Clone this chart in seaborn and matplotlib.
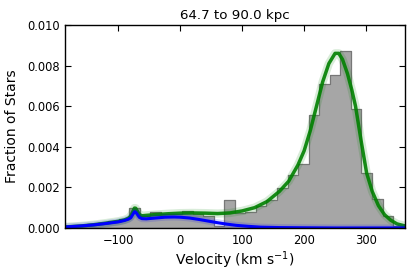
import numpy as np
import pandas as pd
import matplotlib
matplotlib.use("Agg")
import matplotlib.pyplot as plt
import seaborn as sns

# histogram: 32 bins of ~17 km/s, heights
bin_edges = [-184.75 + 17.05 * i for i in range(33)]
bin_heights = [0.00005, 0.0001, 0.00018, 0.00025, 0.00033, 0.00044, 0.00100, 0.00058,
               0.00077, 0.00070, 0.00070, 0.00085, 0.00070, 0.00060, 0.00010, 0.00138,
               0.00075, 0.00080, 0.00110, 0.00138, 0.00199, 0.00261, 0.00314, 0.00555,
               0.00710, 0.00755, 0.00872, 0.00588, 0.00272, 0.00144, 0.00059, 0.00010]

# total model (green)
total_v = [-186, -160, -140, -120, -100, -90, -84, -80, -77, -74, -72, -69, -66, -62, -55,
           -40, -20, 0, 20, 40, 60, 80, 100, 120, 140, 160, 175, 190, 200, 210, 220, 230,
           240, 250, 256, 262, 270, 277, 283, 292, 301, 310, 320, 330, 340, 350, 363]
total_f = [0.00005, 0.0001, 0.00016, 0.00024, 0.00033, 0.0004, 0.00048, 0.00058, 0.00078,
           0.00098, 0.00097, 0.0008, 0.00066, 0.0006, 0.00062, 0.00066, 0.0007, 0.00073,
           0.00074, 0.00073, 0.00071, 0.00074, 0.00084, 0.001, 0.0013, 0.0018, 0.0023,
           0.0031, 0.0038, 0.0048, 0.006, 0.0072, 0.0081, 0.0086, 0.0086, 0.0083, 0.0076,
           0.0068, 0.006, 0.0043, 0.0027, 0.0018, 0.0011, 0.00065, 0.00038, 0.0002, 0.0001]

# halo component (blue)
halo_v = [-186, -160, -140, -120, -100, -90, -84, -80, -77, -74, -72, -69, -66, -62, -55,
          -40, -25, -10, 0, 15, 30, 45, 60, 75, 90, 110, 130, 160, 200, 250, 363]
halo_f = [0.00005, 0.0001, 0.00015, 0.00022, 0.0003, 0.00037, 0.00043, 0.0005, 0.00065,
          0.0008, 0.00078, 0.00065, 0.00052, 0.00046, 0.00045, 0.00049, 0.00053, 0.00054,
          0.00053, 0.00049, 0.00042, 0.00034, 0.00026, 0.00019, 0.00013, 0.00008, 0.00004,
          0.00002, 0.00001, 0.0, 0.0]

sns.set_style("ticks")
plt.rcParams['font.family'] = ['DejaVu Sans']
plt.rcParams['text.color'] = 'black'
plt.rcParams['axes.labelcolor'] = 'black'
plt.rcParams['xtick.color'] = 'black'
plt.rcParams['ytick.color'] = 'black'

fig = plt.figure(figsize=(4.15, 2.77), dpi=100)
ax = fig.add_axes([0.157, 0.177, 0.819, 0.733])

centers = [(bin_edges[i] + bin_edges[i + 1]) / 2 for i in range(len(bin_heights))]
hist_df = pd.DataFrame({'v': centers, 'w': bin_heights})
sns.histplot(data=hist_df, x='v', weights='w', bins=bin_edges, stat='count',
             element='step', fill=True, color='#a6a6a6', alpha=1.0,
             edgecolor='#777777', linewidth=0.9, ax=ax)

tot = pd.DataFrame({'v': total_v, 'f': total_f})
halo = pd.DataFrame({'v': halo_v, 'f': halo_f})
# translucent band standing in for the sampled model curves
sns.lineplot(data=tot, x='v', y='f', color='green', alpha=0.15, linewidth=6, sort=False, ax=ax)
sns.lineplot(data=tot, x='v', y='f', color='green', alpha=0.9, linewidth=2.5, sort=False, ax=ax)
sns.lineplot(data=halo, x='v', y='f', color='blue', alpha=0.15, linewidth=5, sort=False, ax=ax)
sns.lineplot(data=halo, x='v', y='f', color='blue', linewidth=2.2, sort=False, ax=ax)

ax.set_xlim(-186, 363)
ax.set_ylim(0, 0.010)
ax.set_xticks([-100, 0, 100, 200, 300])
ax.set_yticks([0.000, 0.002, 0.004, 0.006, 0.008, 0.010])
ax.yaxis.set_major_formatter(matplotlib.ticker.FormatStrFormatter('%.3f'))
ax.tick_params(direction='in', top=True, right=True, length=4, width=0.8,
               labelsize=8.3, pad=4, colors='black')
for s in ax.spines.values():
    s.set_linewidth(1.0)
    s.set_color('black')

ax.set_title('64.7 to 90.0 kpc', fontsize=9.6, pad=4, color='black')
ax.set_xlabel('Velocity (km s$^{-1}$)', fontsize=10, labelpad=2)
ax.set_ylabel('Fraction of Stars', fontsize=10, labelpad=6)

fig.savefig('out.png', dpi=100)
